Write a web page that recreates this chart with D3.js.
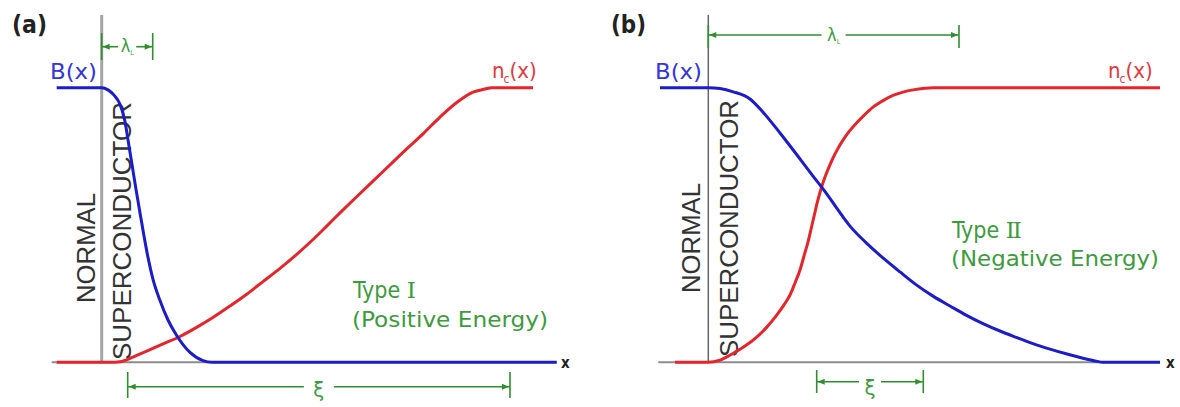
<!DOCTYPE html>
<html>
<head>
<meta charset="utf-8">
<script src="https://cdn.jsdelivr.net/npm/d3@7"></script>
<style>
  html, body { margin: 0; padding: 0; background: #fff; }
  svg { display: block; }
</style>
</head>
<body>
<svg id="chart" width="1180" height="407"></svg>
<script>
// Depth x is measured from the normal/superconductor interface (x = 0).
// Field B(x) and pair density n_c(x) are normalised to 1 deep inside each region.

// Type I: short penetration depth, long coherence length
const typeI_field = [
  [-0.90, 1.000], [0.000, 1.000], [0.126, 0.992], [0.246, 0.973], [0.366, 0.940],
  [0.466, 0.877], [0.526, 0.810], [0.606, 0.720], [0.686, 0.630], [0.766, 0.544],
  [0.846, 0.460], [0.926, 0.382], [1.026, 0.302], [1.166, 0.225], [1.326, 0.154],
  [1.506, 0.096], [1.766, 0.036], [2.026, 0.006], [2.206, 0.000], [9.100, 0.000]
];
const typeI_pairs = [
  [-0.90, 0.000], [0.166, 0.000], [0.366, 0.002], [0.626, 0.019], [0.900, 0.041],
  [1.226, 0.067], [1.566, 0.094], [1.906, 0.128], [2.232, 0.164], [2.566, 0.205],
  [2.900, 0.248], [3.226, 0.294], [3.566, 0.342], [3.906, 0.394], [4.232, 0.448],
  [4.506, 0.497], [4.766, 0.544], [5.100, 0.603], [5.426, 0.660], [5.766, 0.719],
  [6.100, 0.777], [6.426, 0.832], [6.766, 0.893], [7.100, 0.946], [7.426, 0.984],
  [7.666, 0.995], [7.800, 1.000], [8.626, 1.000]
];
const typeI_lambda = [0.00, 1.02];
const typeI_xi = [0.52, 8.166];

// Type II: long penetration depth, short coherence length
const typeII_field = [
  [-0.966, 1.000], [0.000, 1.000], [0.234, 0.997], [0.500, 0.985], [0.834, 0.959],
  [1.094, 0.911], [1.434, 0.835], [1.774, 0.755], [2.094, 0.678], [2.354, 0.617],
  [2.594, 0.555], [2.834, 0.496], [3.154, 0.436], [3.494, 0.380], [3.834, 0.329],
  [4.168, 0.281], [4.494, 0.241], [4.834, 0.205], [5.154, 0.172], [5.494, 0.141],
  [5.834, 0.114], [6.174, 0.090], [6.494, 0.068], [6.834, 0.048], [7.174, 0.030],
  [7.494, 0.015], [7.734, 0.005], [7.900, 0.000], [9.034, 0.000]
];
const typeII_pairs = [
  [-0.666, 0.000], [0.000, 0.000], [0.234, 0.008], [0.500, 0.033], [0.734, 0.059],
  [0.968, 0.092], [1.174, 0.129], [1.368, 0.172], [1.514, 0.209], [1.634, 0.245],
  [1.734, 0.289], [1.834, 0.336], [1.914, 0.387], [2.000, 0.442], [2.074, 0.500],
  [2.134, 0.547], [2.194, 0.592], [2.254, 0.631], [2.334, 0.675], [2.414, 0.711],
  [2.494, 0.744], [2.594, 0.779], [2.694, 0.809], [2.814, 0.840], [2.974, 0.873],
  [3.114, 0.899], [3.294, 0.929], [3.494, 0.953], [3.694, 0.972], [3.894, 0.984],
  [4.094, 0.992], [4.334, 0.998], [4.494, 1.000], [9.034, 1.000]
];
const typeII_lambda = [0.00, 5.014];
const typeII_xi = [2.168, 4.30];

// Text
const panelTags = ["(a)", "(b)"];
const regionNames = ["NORMAL", "SUPERCONDUCTOR"];
const typeWords = ["Type ", "Type "];
const typeNumerals = ["I", "II"];
const typeNotes = ["(Positive Energy)", "(Negative Energy)"];

const COLORS = {
  field: "#1c1cc8", fieldText: "#3535dc",
  pairs: "#e3262b", pairsText: "#e03a3e",
  green: "#2f8f2f", greenText: "#3d9b3d",
  axis: "#8c8c8c", ink: "#333"
};
const LABEL_FONT = "'DejaVu Sans Condensed', 'DejaVu Sans', Verdana, sans-serif";
const NUMERAL_FONT = "'DejaVu Serif', serif";
const CAPS_FONT = "'Liberation Sans', Arial, sans-serif";

const svg = d3.select("#chart");

const panels = [
  {
    tag: panelTags[0], field: typeI_field, pairs: typeI_pairs,
    lambda: typeI_lambda, xi: typeI_xi,
    word: typeWords[0], numeral: typeNumerals[0], note: typeNotes[0],
    range: [51.7, 551.7], xEnd: 9.1, wallStyle: { stroke: "#a5a5a5", width: 3 },
    tagX: 12, fieldLabelX: 50, pairsLabelX: 492,
    normal: { x: 95, y: 303 }, sc: { x: 131, y: 360, len: 258 },
    titleX: 353, titleY: 298, noteY: 327, noteLen: 196,
    lambdaY: 46.7, lambdaTick: [33, 60], lambdaTextY: 52, lambdaGap: 9,
    xiY: 386.7, xiTick: [372, 398], xiTextY: 397, xiGap: 15,
    axisLabelX: 561
  },
  {
    tag: panelTags[1], field: typeII_field, pairs: typeII_pairs,
    lambda: typeII_lambda, xi: typeII_xi,
    word: typeWords[1], numeral: typeNumerals[1], note: typeNotes[1],
    range: [658.3, 1158.3], xEnd: 9.034, wallStyle: { stroke: "#666", width: 1.5 },
    tagX: 611, fieldLabelX: 655, pairsLabelX: 1108,
    normal: { x: 700, y: 293 }, sc: { x: 738, y: 357, len: 257 },
    titleX: 952, titleY: 238, noteY: 266, noteLen: 208,
    lambdaY: 35, lambdaTick: [25, 48], lambdaTextY: 41, lambdaGap: 12,
    xiY: 381.7, xiTick: [370, 393], xiTextY: 395, xiGap: 11,
    axisLabelX: 1166
  }
];

function bracket(g, x, span, y, tick, gap, glyph, textY, size, sub) {
  const x0 = x(span[0]), x1 = x(span[1]);
  const mid = (x0 + x1) / 2;
  const line = g.append("g").attr("stroke", COLORS.green).attr("stroke-width", 1.6).attr("fill", "none");
  line.append("line").attr("x1", x0).attr("x2", mid - gap).attr("y1", y).attr("y2", y);
  line.append("line").attr("x1", mid + gap).attr("x2", x1).attr("y1", y).attr("y2", y);
  line.append("line").attr("x1", x0).attr("x2", x0).attr("y1", tick[0]).attr("y2", tick[1]);
  line.append("line").attr("x1", x1).attr("x2", x1).attr("y1", tick[0]).attr("y2", tick[1]);
  // arrowheads pointing at the two ticks
  const head = 7, half = 3;
  g.append("path")
    .attr("d", `M${x0 + 1},${y}L${x0 + 1 + head},${y - half}L${x0 + 1 + head},${y + half}Z`)
    .attr("fill", COLORS.green);
  g.append("path")
    .attr("d", `M${x1 - 1},${y}L${x1 - 1 - head},${y - half}L${x1 - 1 - head},${y + half}Z`)
    .attr("fill", COLORS.green);
  const t = g.append("text")
    .attr("x", mid).attr("y", textY)
    .attr("text-anchor", "middle")
    .attr("font-family", LABEL_FONT)
    .attr("font-size", size)
    .attr("fill", COLORS.greenText);
  t.append("tspan").text(glyph);
  if (sub) {
    t.append("tspan").attr("font-size", 7).attr("dy", 3).text(sub);
  }
}

panels.forEach(p => {
  const g = svg.append("g");
  const x = d3.scaleLinear().domain([-1, 9]).range(p.range);
  const y = d3.scaleLinear().domain([0, 1]).range([362.3, 87.7]);
  const line = d3.line().x(d => x(d[0])).y(d => y(d[1])).curve(d3.curveMonotoneX);

  // panel tag
  g.append("text")
    .attr("x", p.tagX).attr("y", 33)
    .attr("font-family", LABEL_FONT).attr("font-weight", "bold")
    .attr("font-size", 25).attr("fill", "#222")
    .attr("textLength", 35).attr("lengthAdjust", "spacingAndGlyphs")
    .text(p.tag);

  // x axis
  g.append("line")
    .attr("x1", x(-1)).attr("x2", x(p.xEnd))
    .attr("y1", y(0)).attr("y2", y(0))
    .attr("stroke", COLORS.axis).attr("stroke-width", 2);
  g.append("text")
    .attr("x", p.axisLabelX).attr("y", 368)
    .attr("font-family", LABEL_FONT).attr("font-weight", "bold")
    .attr("font-size", 15).attr("fill", "#222")
    .text("x");

  // interface wall
  g.append("line")
    .attr("x1", x(0)).attr("x2", x(0))
    .attr("y1", 15).attr("y2", y(0))
    .attr("stroke", p.wallStyle.stroke).attr("stroke-width", p.wallStyle.width);

  // region names, reading upward on either side of the wall
  [[regionNames[0], p.normal, 110], [regionNames[1], p.sc, p.sc.len]].forEach(([txt, pos, len]) => {
    g.append("text")
      .attr("transform", `translate(${pos.x},${pos.y}) rotate(-90)`)
      .attr("font-family", CAPS_FONT).attr("font-size", 26)
      .attr("fill", COLORS.ink)
      .attr("textLength", len).attr("lengthAdjust", "spacingAndGlyphs")
      .text(txt);
  });

  // curves
  g.append("path").datum(p.pairs)
    .attr("d", line).attr("fill", "none")
    .attr("stroke", COLORS.pairs).attr("stroke-width", 3)
    .attr("stroke-linejoin", "round");
  g.append("path").datum(p.field)
    .attr("d", line).attr("fill", "none")
    .attr("stroke", COLORS.field).attr("stroke-width", 3)
    .attr("stroke-linejoin", "round");

  // curve labels
  g.append("text")
    .attr("x", p.fieldLabelX).attr("y", 79)
    .attr("font-family", LABEL_FONT).attr("font-size", 22)
    .attr("fill", COLORS.fieldText)
    .attr("textLength", 47).attr("lengthAdjust", "spacingAndGlyphs")
    .text("B(x)");
  const nc = g.append("text")
    .attr("x", p.pairsLabelX).attr("y", 78)
    .attr("font-family", LABEL_FONT).attr("font-size", 22)
    .attr("fill", COLORS.pairsText);
  nc.append("tspan").text("n");
  nc.append("tspan").attr("font-size", 12).attr("dy", 5).attr("dx", -1).text("c");
  nc.append("tspan").attr("dy", -5).text("(x)");

  // type description
  const title = g.append("text")
    .attr("x", p.titleX).attr("y", p.titleY)
    .attr("font-family", LABEL_FONT).attr("font-size", 23)
    .attr("fill", COLORS.greenText);
  title.append("tspan").text(p.word);
  title.append("tspan").attr("font-family", NUMERAL_FONT).attr("font-size", 23)
    .attr("letter-spacing", -2).text(p.numeral);
  g.append("text")
    .attr("x", p.titleX - 1).attr("y", p.noteY)
    .attr("font-family", LABEL_FONT).attr("font-size", 22)
    .attr("fill", COLORS.greenText)
    .attr("textLength", p.noteLen).attr("lengthAdjust", "spacingAndGlyphs")
    .text(p.note);

  // characteristic lengths
  bracket(g, x, p.lambda, p.lambdaY, p.lambdaTick, p.lambdaGap, "\u03bb", p.lambdaTextY, 18, "L");
  bracket(g, x, p.xi, p.xiY, p.xiTick, p.xiGap, "\u03be", p.xiTextY, 22, null);
});
</script>
</body>
</html>
